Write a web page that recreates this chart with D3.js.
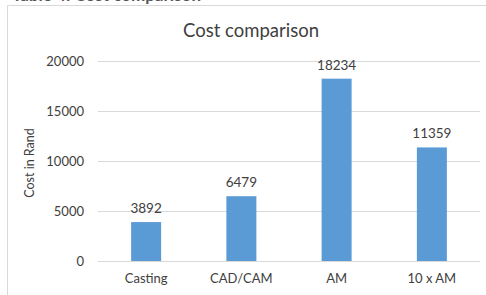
<!DOCTYPE html>
<html>
<head>
<meta charset="utf-8">
<script src="https://cdn.jsdelivr.net/npm/d3@7"></script>
<style>
  body { margin: 0; background: #fff; }
  text { font-family: Lato, "Open Sans", sans-serif; fill: #404040; }
</style>
</head>
<body>
<svg id="chart"></svg>
<script>
const categories = ["Casting", "CAD/CAM", "AM", "10 x AM"];
const costs = [3892, 6479, 18234, 11359];
const yTicks = [0, 5000, 10000, 15000, 20000];

const w = 486;
const h = 295;

const svg = d3.select("#chart").attr("width", w).attr("height", h);

// caption above the chart, mostly cut off in the picture
svg.append("text")
  .attr("x", 12)
  .attr("y", 0.5)
  .attr("font-size", 17)
  .attr("font-weight", "bold")
  .style("fill", "#555")
  .text("Table 4: Cost comparison");

// chart frame
svg.append("rect")
  .attr("x", 7.5)
  .attr("y", 5.5)
  .attr("width", w)
  .attr("height", h)
  .attr("fill", "none")
  .attr("stroke", "#d9d9d9");

const x = d3.scaleBand()
  .domain(categories)
  .range([98.5, 479.5])
  .paddingInner(0.685)
  .paddingOuter(0.3425);

const y = d3.scaleLinear()
  .domain([0, 20000])
  .range([261, 61]);

// gridlines
svg.append("g")
  .selectAll("line")
  .data(yTicks)
  .enter()
  .append("line")
  .attr("x1", 98)
  .attr("x2", 480)
  .attr("y1", (d) => Math.round(y(d)) + 0.5)
  .attr("y2", (d) => Math.round(y(d)) + 0.5)
  .attr("stroke", "#d9d9d9");

const yAxis = d3.axisLeft(y)
  .tickValues(yTicks)
  .tickFormat(d3.format("d"))
  .tickSize(0)
  .tickPadding(0);
svg.append("g")
  .attr("transform", "translate(84, 0)")
  .call(yAxis)
  .call((g) => g.select(".domain").remove())
  .call((g) => g.selectAll("text")
    .attr("font-size", 13)
    .attr("font-family", null)
    .attr("dy", "0.35em"));

const xAxis = d3.axisBottom(x).tickSize(0).tickPadding(0);
svg.append("g")
  .attr("transform", "translate(0, 274)")
  .call(xAxis)
  .call((g) => g.select(".domain").remove())
  .call((g) => g.selectAll("text")
    .attr("font-size", 13)
    .attr("font-family", null)
    .attr("dy", "0.71em"));

svg.selectAll("rect.bar")
  .data(costs)
  .enter()
  .append("rect")
  .attr("class", "bar")
  .attr("x", (d, i) => x(categories[i]))
  .attr("y", (d) => y(d))
  .attr("width", x.bandwidth())
  .attr("height", (d) => y(0) - y(d))
  .attr("fill", "#5b9bd5");

svg.selectAll("text.label")
  .data(costs)
  .enter()
  .append("text")
  .attr("class", "label")
  .attr("x", (d, i) => x(categories[i]) + x.bandwidth() / 2)
  .attr("y", (d) => y(d) - 9)
  .attr("text-anchor", "middle")
  .attr("font-size", 13.5)
  .text((d) => d);

svg.append("text")
  .attr("x", 251)
  .attr("y", 37)
  .attr("text-anchor", "middle")
  .attr("font-size", 18.5)
  .text("Cost comparison");

svg.append("text")
  .attr("transform", "translate(34, 163) rotate(-90)")
  .attr("text-anchor", "middle")
  .attr("font-size", 12.5)
  .text("Cost in Rand");
</script>
</body>
</html>
